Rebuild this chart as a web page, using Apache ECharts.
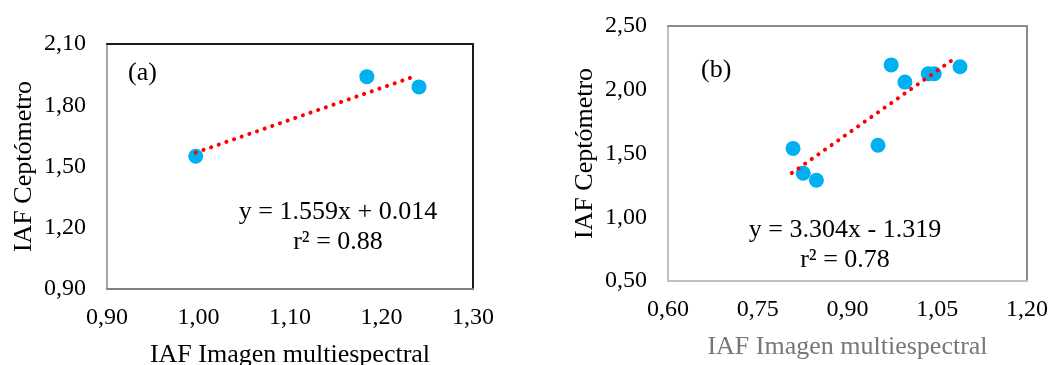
<!DOCTYPE html>
<html>
<head>
<meta charset="utf-8">
<script src="https://cdn.jsdelivr.net/npm/echarts@6/dist/echarts.min.js"></script>
<style>
html,body{margin:0;padding:0;background:#fff;}
#c{width:1056px;height:365px;}
</style>
</head>
<body>
<div id="c"></div>
<script>
// ---- data ----
const xA = [0.997, 1.184, 1.241];
const yA = [1.55, 1.94, 1.89];
const trendXA = [0.997, 1.234];
const trendYA = [1.568, 1.938];
const xTicksA = ['0,90', '1,00', '1,10', '1,20', '1,30'];
const yTicksA = ['0,90', '1,20', '1,50', '1,80', '2,10'];

const xB = [0.809, 0.826, 0.848, 0.951, 0.973, 0.996, 1.035, 1.045, 1.088];
const yB = [1.54, 1.345, 1.29, 1.565, 2.195, 2.06, 2.125, 2.125, 2.18];
const trendXB = [0.807, 1.076];
const trendYB = [1.347, 2.236];
const xTicksB = ['0,60', '0,75', '0,90', '1,05', '1,20'];
const yTicksB = ['0,50', '1,00', '1,50', '2,00', '2,50'];

const eqA = ['y = 1.559x + 0.014', 'r² = 0.88'];
const eqB = ['y = 3.304x - 1.319', 'r² = 0.78'];
const panelLabels = ['(a)', '(b)'];
const xTitle = 'IAF Imagen multiespectral';
const yTitle = 'IAF Ceptómetro';

// ---- chart ----
const FONT = 'Liberation Serif, Times New Roman, serif';
const zip = (xs, ys) => xs.map((x, i) => [x, ys[i]]);
const num = s => parseFloat(s.replace(',', '.'));
const rng = t => ({min: num(t[0]), max: num(t[t.length-1]), interval: +(num(t[1]) - num(t[0])).toFixed(4)});

function mainX(grid, ticks, nameColor, nameGap, lineColor) {
  const r = rng(ticks);
  return {
    type: 'value', gridIndex: grid, min: r.min, max: r.max, interval: r.interval,
    position: 'bottom',
    name: xTitle, nameLocation: 'middle', nameGap: nameGap,
    nameTextStyle: {fontFamily: FONT, fontSize: 26, color: nameColor},
    axisLine: {show: true, onZero: false, lineStyle: {color: lineColor, width: 2}},
    axisTick: {show: false}, splitLine: {show: false},
    axisLabel: {margin: 17, fontFamily: FONT, fontSize: 24, color: '#000', formatter: (v, i) => ticks[i]}
  };
}
function mainY(grid, ticks, nameGap, lineColor) {
  const r = rng(ticks);
  return {
    type: 'value', gridIndex: grid, min: r.min, max: r.max, interval: r.interval,
    position: 'left',
    name: yTitle, nameLocation: 'middle', nameGap: nameGap,
    nameTextStyle: {fontFamily: FONT, fontSize: 26, color: '#000'},
    axisLine: {show: true, onZero: false, lineStyle: {color: lineColor, width: 2}},
    axisTick: {show: false}, splitLine: {show: false},
    axisLabel: {margin: 21, fontFamily: FONT, fontSize: 24, color: '#000', formatter: (v, i) => ticks[i]}
  };
}
function borderAxis(grid, ticks, pos, color) {
  const r = rng(ticks);
  return {
    type: 'value', gridIndex: grid, min: r.min, max: r.max, interval: r.interval, position: pos,
    axisLine: {show: true, onZero: false, lineStyle: {color: color, width: 2}},
    axisTick: {show: false}, axisLabel: {show: false}, splitLine: {show: false}
  };
}

const chart = echarts.init(document.getElementById('c'), null, {renderer: 'canvas'});
chart.setOption({
  animation: false,
  backgroundColor: '#fff',
  grid: [
    {left: 107, top: 44, width: 366, height: 245, outerBoundsMode: 'none', containLabel: false},
    {left: 668, top: 26, width: 359, height: 255, outerBoundsMode: 'none', containLabel: false}
  ],
  xAxis: [
    mainX(0, xTicksA, '#000', 53, '#808080'),
    mainX(1, xTicksB, '#777', 53, '#bfbfbf'),
    borderAxis(0, xTicksA, 'top', '#1a1a1a'),
    borderAxis(1, xTicksB, 'top', '#8c8c8c')
  ],
  yAxis: [
    mainY(0, yTicksA, 70, '#a6a6a6'),
    mainY(1, yTicksB, 70, '#bfbfbf'),
    borderAxis(0, yTicksA, 'right', '#1a1a1a'),
    borderAxis(1, yTicksB, 'right', '#8c8c8c')
  ],
  series: [
    {type: 'scatter', xAxisIndex: 0, yAxisIndex: 0, data: zip(xA, yA), symbolSize: 15, itemStyle: {color: '#00B0F0', opacity: 1}, z: 2},
    {type: 'line', xAxisIndex: 0, yAxisIndex: 0, data: zip(trendXA, trendYA), symbol: 'none',
      lineStyle: {color: '#ff0000', width: 4, type: [0.1, 8], cap: 'round'}, z: 3},
    {type: 'scatter', xAxisIndex: 1, yAxisIndex: 1, data: zip(xB, yB), symbolSize: 15, itemStyle: {color: '#00B0F0', opacity: 1}, z: 2},
    {type: 'line', xAxisIndex: 1, yAxisIndex: 1, data: zip(trendXB, trendYB), symbol: 'none',
      lineStyle: {color: '#ff0000', width: 4, type: [0.1, 8], cap: 'round'}, z: 3}
  ],
  graphic: [
    {type: 'text', left: 128, top: 60, style: {text: panelLabels[0], font: '26px ' + FONT, fill: '#000'}},
    {type: 'text', left: 701, top: 57, style: {text: panelLabels[1], font: '26px ' + FONT, fill: '#000'}},
    {type: 'text', x: 338, y: 212, style: {text: eqA[0], font: '26px ' + FONT, fill: '#000', align: 'center', verticalAlign: 'middle'}},
    {type: 'text', x: 338, y: 242, style: {text: eqA[1], font: '26px ' + FONT, fill: '#000', align: 'center', verticalAlign: 'middle'}},
    {type: 'text', x: 845, y: 230, style: {text: eqB[0], font: '26px ' + FONT, fill: '#000', align: 'center', verticalAlign: 'middle'}},
    {type: 'text', x: 845, y: 260, style: {text: eqB[1], font: '26px ' + FONT, fill: '#000', align: 'center', verticalAlign: 'middle'}}
  ]
});
</script>
</body>
</html>
